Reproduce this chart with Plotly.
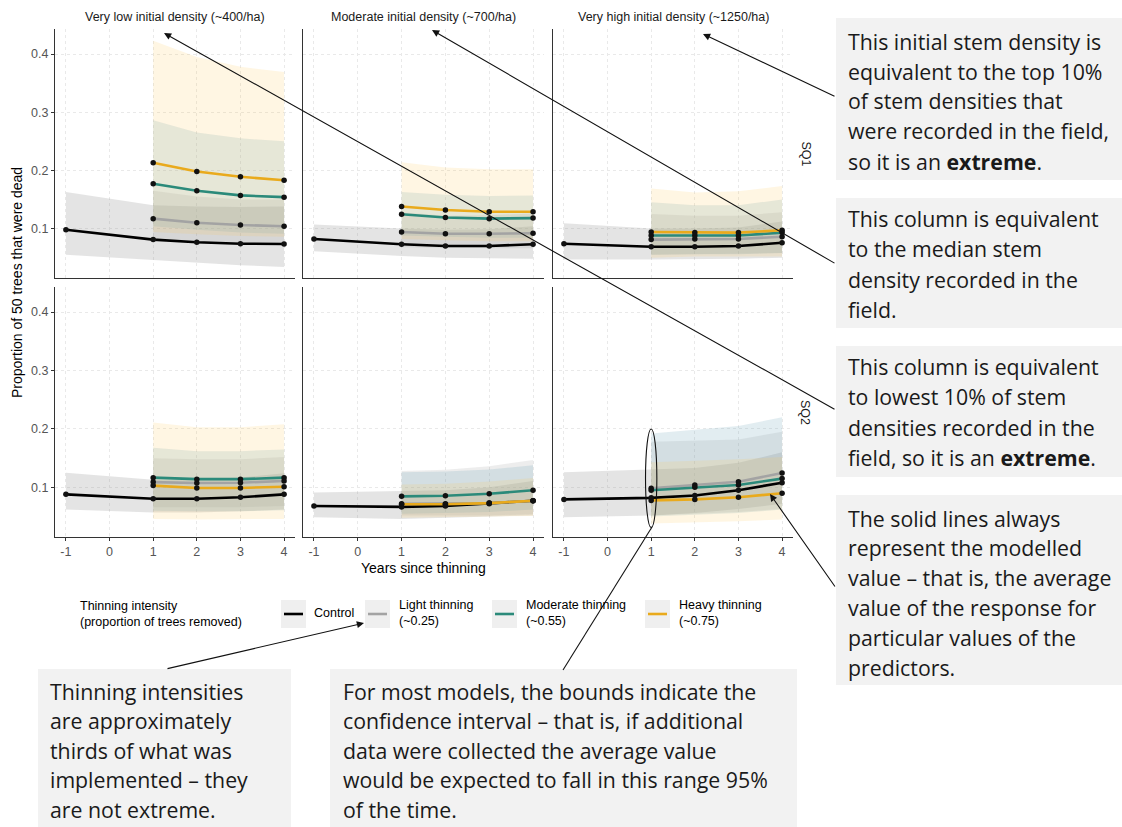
import plotly.graph_objects as go

W, H = 1122, 827

# ---------------- data ----------------
YEARS_CONTROL = [-1, 1, 2, 3, 4]
YEARS_THIN = [1, 2, 3, 4]
X_TICKS = [-1, 0, 1, 2, 3, 4]
X_TICK_TEXT = ["-1", "0", "1", "2", "3", "4"]
Y_TICKS = [0.1, 0.2, 0.3, 0.4]
Y_TICK_TEXT = ["0.1", "0.2", "0.3", "0.4"]
DENSITY_LABELS = ["Very low initial density (~400/ha)",
                  "Moderate initial density (~700/ha)",
                  "Very high initial density (~1250/ha)"]
SQ_LABELS = ["SQ1", "SQ2"]
TREATMENTS = ["Control", "Light", "Moderate", "Heavy"]
LEGEND_LABELS = ["Control", "Light thinning<br>(~0.25)",
                 "Moderate thinning<br>(~0.55)", "Heavy thinning<br>(~0.75)"]
LEGEND_TITLE = "Thinning intensity<br>(proportion of trees removed)"

# SQ1 - very low initial density
sq1_vlow_fit = {"Control": [0.098, 0.081, 0.0765, 0.074, 0.0735],
                "Light": [0.117, 0.110, 0.106, 0.104],
                "Moderate": [0.177, 0.165, 0.157, 0.154],
                "Heavy": [0.213, 0.198, 0.189, 0.183]}
sq1_vlow_lo = {"Control": [0.055, 0.046, 0.041, 0.037, 0.034],
               "Light": [0.080, 0.077, 0.074, 0.072],
               "Moderate": [0.104, 0.098, 0.093, 0.091],
               "Heavy": [0.094, 0.090, 0.087, 0.086]}
sq1_vlow_hi = {"Control": [0.163, 0.140, 0.138, 0.137, 0.138],
               "Light": [0.165, 0.155, 0.150, 0.150],
               "Moderate": [0.286, 0.265, 0.255, 0.250],
               "Heavy": [0.423, 0.395, 0.378, 0.369]}

# SQ1 - moderate initial density
sq1_mod_fit = {"Control": [0.082, 0.073, 0.070, 0.070, 0.073],
               "Light": [0.094, 0.091, 0.091, 0.092],
               "Moderate": [0.1245, 0.119, 0.117, 0.118],
               "Heavy": [0.138, 0.132, 0.129, 0.129]}
sq1_mod_lo = {"Control": [0.061, 0.053, 0.050, 0.049, 0.048],
              "Light": [0.068, 0.067, 0.066, 0.066],
              "Moderate": [0.088, 0.086, 0.084, 0.084],
              "Heavy": [0.082, 0.080, 0.078, 0.078]}
sq1_mod_hi = {"Control": [0.107, 0.100, 0.098, 0.099, 0.104],
              "Light": [0.128, 0.122, 0.123, 0.126],
              "Moderate": [0.163, 0.158, 0.156, 0.157],
              "Heavy": [0.214, 0.205, 0.202, 0.202]}

# SQ1 - very high initial density
sq1_vhigh_fit = {"Control": [0.074, 0.0686, 0.0686, 0.070, 0.0755],
                 "Light": [0.081, 0.082, 0.082, 0.086],
                 "Moderate": [0.088, 0.088, 0.088, 0.093],
                 "Heavy": [0.094, 0.093, 0.093, 0.097]}
sq1_vhigh_lo = {"Control": [0.047, 0.047, 0.047, 0.048, 0.050],
                "Light": [0.055, 0.056, 0.057, 0.058],
                "Moderate": [0.055, 0.056, 0.056, 0.058],
                "Heavy": [0.050, 0.052, 0.052, 0.052]}
sq1_vhigh_hi = {"Control": [0.109, 0.100, 0.100, 0.102, 0.112],
                "Light": [0.125, 0.122, 0.122, 0.128],
                "Moderate": [0.145, 0.140, 0.140, 0.150],
                "Heavy": [0.169, 0.162, 0.164, 0.173]}

# SQ2 - very low initial density
sq2_vlow_fit = {"Control": [0.088, 0.0806, 0.0806, 0.083, 0.088],
                "Light": [0.109, 0.1075, 0.108, 0.111],
                "Moderate": [0.1166, 0.114, 0.114, 0.1166],
                "Heavy": [0.103, 0.099, 0.099, 0.101]}
sq2_vlow_lo = {"Control": [0.062, 0.057, 0.057, 0.059, 0.062],
               "Light": [0.066, 0.066, 0.066, 0.068],
               "Moderate": [0.060, 0.059, 0.059, 0.061],
               "Heavy": [0.046, 0.045, 0.045, 0.046]}
sq2_vlow_hi = {"Control": [0.125, 0.113, 0.113, 0.117, 0.124],
               "Light": [0.150, 0.148, 0.148, 0.152],
               "Moderate": [0.168, 0.162, 0.162, 0.165],
               "Heavy": [0.211, 0.203, 0.203, 0.208]}

# SQ2 - moderate initial density
sq2_mod_fit = {"Control": [0.068, 0.0665, 0.068, 0.072, 0.077],
               "Light": [0.072, 0.072, 0.073, 0.077],
               "Moderate": [0.0846, 0.0857, 0.089, 0.095],
               "Heavy": [0.071, 0.071, 0.073, 0.077]}
sq2_mod_lo = {"Control": [0.049, 0.046, 0.048, 0.050, 0.052],
              "Light": [0.052, 0.052, 0.052, 0.054],
              "Moderate": [0.055, 0.056, 0.058, 0.062],
              "Heavy": [0.048, 0.049, 0.050, 0.051]}
sq2_mod_hi = {"Control": [0.091, 0.093, 0.095, 0.100, 0.111],
              "Light": [0.128, 0.130, 0.136, 0.147],
              "Moderate": [0.126, 0.127, 0.1306, 0.138],
              "Heavy": [0.105, 0.106, 0.110, 0.116]}

# SQ2 - very high initial density
sq2_vhigh_fit = {"Control": [0.0794, 0.082, 0.086, 0.095, 0.108],
                 "Light": [0.0985, 0.104, 0.1096, 0.1246],
                 "Moderate": [0.095, 0.100, 0.104, 0.115],
                 "Heavy": [0.0777, 0.0794, 0.083, 0.090]}
sq2_vhigh_lo = {"Control": [0.049, 0.052, 0.056, 0.063, 0.072],
                "Light": [0.052, 0.055, 0.058, 0.063],
                "Moderate": [0.050, 0.053, 0.056, 0.062],
                "Heavy": [0.038, 0.040, 0.042, 0.045]}
sq2_vhigh_hi = {"Control": [0.126, 0.130, 0.133, 0.142, 0.160],
                "Light": [0.178, 0.180, 0.182, 0.195],
                "Moderate": [0.192, 0.198, 0.205, 0.220],
                "Heavy": [0.143, 0.145, 0.148, 0.152]}

PANELS = [[(sq1_vlow_fit, sq1_vlow_lo, sq1_vlow_hi),
           (sq1_mod_fit, sq1_mod_lo, sq1_mod_hi),
           (sq1_vhigh_fit, sq1_vhigh_lo, sq1_vhigh_hi)],
          [(sq2_vlow_fit, sq2_vlow_lo, sq2_vlow_hi),
           (sq2_mod_fit, sq2_mod_lo, sq2_mod_hi),
           (sq2_vhigh_fit, sq2_vhigh_lo, sq2_vhigh_hi)]]

# ---------------- styles ----------------
LINE_COLORS = {"Control": "#000000", "Light": "#a3a3a3",
               "Moderate": "#2b8a7a", "Heavy": "#e9aa1c"}
RIBBON_COLORS = {"Control": "rgba(140,140,140,0.23)",
                 "Light": "rgba(140,140,140,0.16)",
                 "Moderate": "rgba(110,165,185,0.20)",
                 "Heavy": "rgba(255,200,80,0.16)"}
AXIS_FONT = "Liberation Sans, Arial, sans-serif"
NOTE_FONT = "Open Sans, sans-serif"

COL_PX = [(55, 295), (303, 544), (553, 793)]
ROW_PX = [(29, 278), (287, 537)]
X_RANGE = [-1.25, 4.25]
Y_RANGE = [0.015, 0.443]


def px(x):
    return x / W


def py(y):
    return 1 - y / H


fig = go.Figure()
layout_axes = {}

for r in range(2):
    for c in range(3):
        k = r * 3 + c + 1
        sfx = "" if k == 1 else str(k)
        fit, lo, hi = PANELS[r][c]
        for t in TREATMENTS:
            xs = YEARS_CONTROL if t == "Control" else YEARS_THIN
            fig.add_trace(go.Scatter(
                x=list(xs) + list(xs)[::-1],
                y=list(hi[t]) + list(lo[t])[::-1],
                fill="toself", fillcolor=RIBBON_COLORS[t],
                line=dict(width=0), mode="lines", hoverinfo="skip",
                showlegend=False, xaxis="x" + sfx, yaxis="y" + sfx))
        for t in TREATMENTS:
            xs = YEARS_CONTROL if t == "Control" else YEARS_THIN
            fig.add_trace(go.Scatter(
                x=xs, y=fit[t], mode="lines",
                line=dict(color=LINE_COLORS[t], width=2.6),
                showlegend=False, name=t, xaxis="x" + sfx, yaxis="y" + sfx))
        for t in TREATMENTS:
            xs = YEARS_CONTROL if t == "Control" else YEARS_THIN
            fig.add_trace(go.Scatter(
                x=xs, y=fit[t], mode="markers",
                marker=dict(color="#111111", size=5.5),
                showlegend=False, hoverinfo="skip",
                xaxis="x" + sfx, yaxis="y" + sfx))

        common = dict(showline=True, linecolor="#333333", linewidth=1.2,
                      showgrid=True, gridcolor="#e9e9e9", griddash="dot",
                      gridwidth=1, zeroline=False, ticklen=3,
                      tickcolor="#333333",
                      tickfont=dict(family=AXIS_FONT, size=12.5, color="#555555"))
        layout_axes["xaxis" + sfx] = dict(
            common, domain=[px(COL_PX[c][0]), px(COL_PX[c][1])],
            anchor="y" + sfx, range=X_RANGE, tickvals=X_TICKS,
            ticktext=X_TICK_TEXT, showticklabels=(r == 1),
            ticks="outside" if r == 1 else "")
        layout_axes["yaxis" + sfx] = dict(
            common, domain=[py(ROW_PX[r][1]), py(ROW_PX[r][0])],
            anchor="x" + sfx, range=Y_RANGE, tickvals=Y_TICKS,
            ticktext=Y_TICK_TEXT, showticklabels=(c == 0),
            ticks="outside" if c == 0 else "")

fig.update_layout(**layout_axes)

annotations = []
shapes = []

for c, lab in enumerate(DENSITY_LABELS):
    annotations.append(dict(x=px((COL_PX[c][0] + COL_PX[c][1]) / 2), y=py(17),
                            xref="paper", yref="paper", text=lab, showarrow=False,
                            font=dict(family=AXIS_FONT, size=12.5, color="#1a1a1a"),
                            xanchor="center", yanchor="middle"))
for r, lab in enumerate(SQ_LABELS):
    annotations.append(dict(x=px(805), y=py((ROW_PX[r][0] + ROW_PX[r][1]) / 2),
                            xref="paper", yref="paper", text=lab, showarrow=False,
                            textangle=90,
                            font=dict(family=AXIS_FONT, size=12.5, color="#1a1a1a"),
                            xanchor="center", yanchor="middle"))

annotations.append(dict(x=px(17), y=py(283), xref="paper", yref="paper",
                        text="Proportion of 50 trees that were dead", showarrow=False,
                        textangle=-90, font=dict(family=AXIS_FONT, size=14, color="#000000"),
                        xanchor="center", yanchor="middle"))
annotations.append(dict(x=px(424), y=py(568), xref="paper", yref="paper",
                        text="Years since thinning", showarrow=False,
                        font=dict(family=AXIS_FONT, size=14, color="#000000"),
                        xanchor="center", yanchor="middle"))

# legend (manual)
annotations.append(dict(x=px(78), y=py(614), xref="paper", yref="paper",
                        text=LEGEND_TITLE, showarrow=False, align="left",
                        font=dict(family=AXIS_FONT, size=12.5, color="#000000"),
                        xanchor="left", yanchor="middle"))
KEY_X = [281, 365, 492, 645]
TEXT_X = [312, 397, 524, 677]
for i, t in enumerate(TREATMENTS):
    kx = KEY_X[i]
    shapes.append(dict(type="rect", xref="paper", yref="paper",
                       x0=px(kx), x1=px(kx + 25), y0=py(628), y1=py(600),
                       fillcolor="#efefef", line=dict(width=0), layer="below"))
    shapes.append(dict(type="line", xref="paper", yref="paper",
                       x0=px(kx + 3), x1=px(kx + 22), y0=py(614), y1=py(614),
                       line=dict(color=LINE_COLORS[t], width=2.6)))
    annotations.append(dict(x=px(TEXT_X[i]), y=py(613), xref="paper", yref="paper",
                            text=LEGEND_LABELS[i], showarrow=False, align="left",
                            font=dict(family=AXIS_FONT, size=12.5, color="#000000"),
                            xanchor="left", yanchor="middle"))

NOTES = [
    ((836, 1122, 18, 180), 846, 41, 30,
     ["This initial stem density is", "equivalent to the top 10%",
      "of stem densities that", "were recorded in the field,",
      "so it is an <b>extreme</b>."]),
    ((836, 1122, 198, 328), 846, 219, 30,
     ["This column is equivalent", "to the median stem",
      "density recorded in the", "field."]),
    ((836, 1122, 346, 477), 846, 367, 30,
     ["This column is equivalent", "to lowest 10% of stem",
      "densities recorded in the", "field, so it is an <b>extreme</b>."]),
    ((836, 1122, 495, 685), 846, 518, 29.8,
     ["The solid lines always", "represent the modelled",
      "value \u2013 that is, the average", "value of the response for",
      "particular values of the", "predictors."]),
    ((38, 291, 669, 827), 48, 691, 29.5,
     ["Thinning intensities", "are approximately",
      "thirds of what was", "implemented \u2013 they",
      "are not extreme."]),
    ((330, 797, 669, 827), 341, 691, 29.5,
     ["For most models, the bounds indicate the",
      "confidence interval \u2013 that is, if additional",
      "data were collected the average value",
      "would be expected to fall in this range 95%",
      "of the time."]),
]
for (x0, x1, y0, y1), tx, ty, dy, lines in NOTES:
    shapes.append(dict(type="rect", xref="paper", yref="paper",
                       x0=px(x0), x1=px(x1), y0=py(y1), y1=py(y0),
                       fillcolor="#f2f2f2", line=dict(width=0), layer="below"))
    for i, ln in enumerate(lines):
        annotations.append(dict(x=px(tx), y=py(ty + i * dy), xref="paper", yref="paper",
                                text=ln, showarrow=False,
                                font=dict(family=NOTE_FONT, size=21.3, color="#1a1a1a"),
                                xanchor="left", yanchor="middle"))

ARROWS = [((703, 34), (836, 97)),
          ((432, 30), (836, 264)),
          ((164, 33), (836, 410)),
          ((770, 494), (836, 588)),
          ((364, 623), (166, 669))]
for (hx, hy), (tx, ty) in ARROWS:
    annotations.append(dict(x=px(hx), y=py(hy), xref="paper", yref="paper",
                            ax=tx - hx, ay=ty - hy, axref="pixel", ayref="pixel",
                            text="", showarrow=True, arrowhead=2, arrowsize=1.3,
                            arrowwidth=1.1, arrowcolor="#111111", standoff=0))

shapes.append(dict(type="circle", xref="x6", yref="y6", x0=0.87, x1=1.13,
                   y0=0.031, y1=0.200, line=dict(color="#111111", width=1.1)))
shapes.append(dict(type="line", xref="paper", yref="paper",
                   x0=px(652), y0=py(527), x1=px(563), y1=py(670),
                   line=dict(color="#111111", width=1.1)))

fig.update_layout(width=W, height=H, margin=dict(l=0, r=0, t=0, b=0),
                  paper_bgcolor="white", plot_bgcolor="white",
                  showlegend=False, annotations=annotations, shapes=shapes)

fig.write_html("out.html", config={"displayModeBar": False},
               post_script="document.body.style.margin='0';document.body.style.padding='0';")
